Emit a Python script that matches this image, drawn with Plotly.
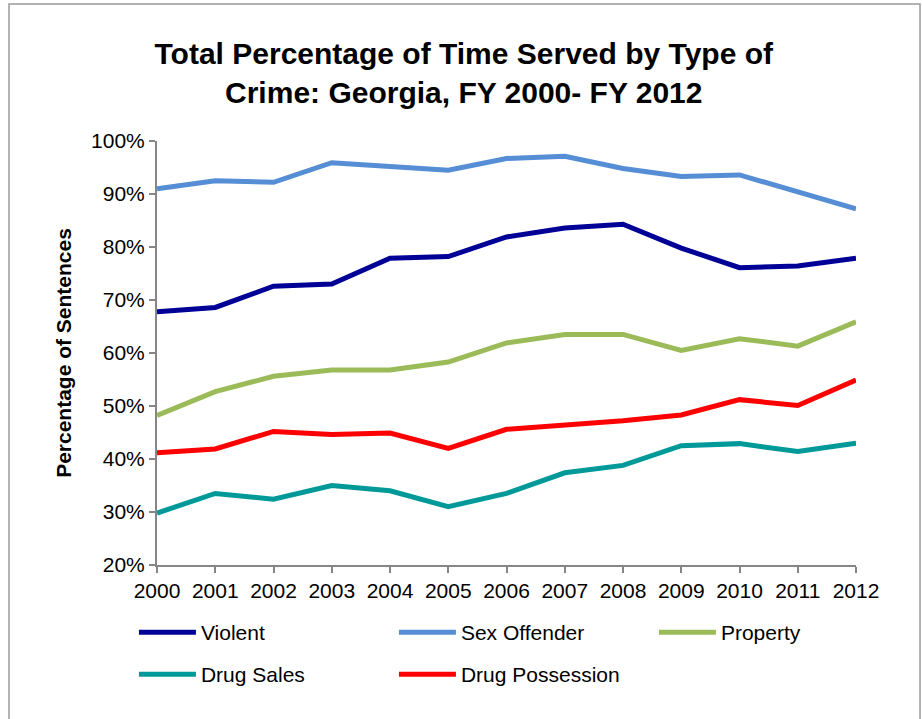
import plotly.graph_objects as go

years = [2000, 2001, 2002, 2003, 2004, 2005, 2006, 2007, 2008, 2009, 2010, 2011, 2012]
violent = [67.8, 68.6, 72.6, 73.0, 77.9, 78.2, 81.9, 83.6, 84.3, 79.8, 76.1, 76.4, 77.9]
sex_offender = [91.0, 92.5, 92.2, 95.9, 95.2, 94.5, 96.7, 97.1, 94.8, 93.3, 93.6, 90.3, 87.2]
property_ = [48.2, 52.7, 55.6, 56.8, 56.8, 58.3, 61.9, 63.5, 63.5, 60.5, 62.7, 61.3, 65.9]
drug_sales = [29.8, 33.5, 32.4, 35.0, 34.0, 31.0, 33.5, 37.4, 38.8, 42.5, 42.9, 41.4, 43.0]
drug_possession = [41.2, 41.9, 45.2, 44.6, 44.9, 42.0, 45.6, 46.3, 47.2, 48.3, 51.2, 50.1, 54.9]

series = [
    ("Violent", violent, "#000096", "legend"),
    ("Sex Offender", sex_offender, "#558ED5", "legend"),
    ("Property", property_, "#9BBB59", "legend"),
    ("Drug Sales", drug_sales, "#009999", "legend2"),
    ("Drug Possession", drug_possession, "#FF0000", "legend2"),
]

font_family = "Liberation Sans, Arial, sans-serif"

fig = go.Figure()
for name, vals, color, leg in series:
    fig.add_trace(go.Scatter(
        x=years, y=vals, name=name, mode="lines",
        line=dict(color=color, width=5), legend=leg,
    ))

legend_common = dict(
    orientation="h", xanchor="left", yanchor="top",
    entrywidth=188, entrywidthmode="pixels", itemwidth=57,
    font=dict(size=21), bgcolor="rgba(0,0,0,0)",
)

fig.update_layout(
    width=922, height=719,
    margin=dict(l=157, r=66, t=141, b=154),
    paper_bgcolor="white", plot_bgcolor="white",
    font=dict(family=font_family, color="black", size=21),
    title=dict(
        text="<b>Total Percentage of Time Served by Type of<br>Crime: Georgia, FY 2000- FY 2012</b>",
        x=0.503, xref="container", xanchor="center",
        y=0.911, yref="container", yanchor="middle",
        font=dict(size=30, family=font_family, color="black"),
    ),
    xaxis=dict(
        range=[2000, 2012], tickmode="array", tickvals=years,
        ticktext=[str(y) for y in years],
        showgrid=False, zeroline=False,
        showline=True, linecolor="#868686", linewidth=2,
        ticks="outside", ticklen=6, tickcolor="#868686", tickwidth=2,
        tickfont=dict(size=21), fixedrange=True,
    ),
    yaxis=dict(
        range=[20, 100], tickmode="array",
        tickvals=[20, 30, 40, 50, 60, 70, 80, 90, 100],
        ticktext=["20%", "30%", "40%", "50%", "60%", "70%", "80%", "90%", "100%"],
        showgrid=False, zeroline=False,
        showline=True, linecolor="#868686", linewidth=2,
        ticks="outside", ticklen=6, tickcolor="#868686", tickwidth=2,
        tickfont=dict(size=21),
        title=dict(text="<b>Percentage of Sentences</b>", font=dict(size=21), standoff=14),
    ),
    legend=dict(x=-0.033, y=-0.111, **legend_common),
    legend2=dict(x=-0.033, y=-0.21, **legend_common),
    showlegend=True,
)

# chart-area border
fig.add_shape(type="rect", xref="paper", yref="paper",
              x0=-0.2117, x1=1.0916, y0=-0.6, y1=1.3231,
              line=dict(color="#999999", width=1.5), fillcolor="rgba(0,0,0,0)", layer="below")

fig.write_html("out.html", config={"displayModeBar": False},
               post_script="document.body.style.margin='0';")
